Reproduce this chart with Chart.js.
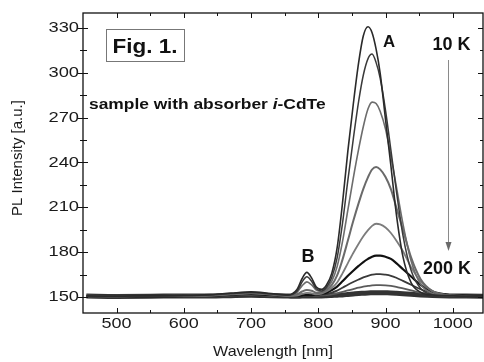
<!DOCTYPE html>
<html>
<head>
<meta charset="utf-8">
<script src="https://cdn.jsdelivr.net/npm/chart.js@4.4.1/dist/chart.umd.min.js"></script>
<style>
  html, body { margin: 0; padding: 0; background: #fff; }
  #wrap { width: 484px; height: 362px; }
</style>
</head>
<body>
<div id="wrap"><canvas id="chart"></canvas></div>
<script>
// wavelength grid (nm), denser around peaks A and B
const wavelength = [455, 500, 550, 600, 640, 670, 700, 730, 755, 768, 776, 783, 790, 797, 805, 812, 820, 828, 836, 844, 852, 860, 867, 874, 880, 886, 892, 900, 908, 916, 926, 938, 952, 970, 995, 1020, 1045];

// PL spectra, 10 K (top) ... 200 K (bottom)
const curve1 = [150.8, 150.6, 150.9, 151.0, 151.6, 152.6, 153.4, 152.3, 151.4, 154.8, 162.4, 166.5, 162.8, 156.7, 155.1, 157.9, 165.8, 182.8, 212.8, 247.8, 278.8, 306.8, 324.8, 330.8, 326.8, 315.8, 299.8, 268.8, 237.8, 205.8, 176.8, 159.6, 153.2, 151.3, 150.9, 150.7, 150.8];
const curve2 = [150.4, 150.7, 150.5, 150.8, 151.4, 152.3, 153.0, 152.0, 151.1, 153.7, 160.1, 163.5, 160.5, 155.5, 154.1, 156.4, 163.0, 176.2, 199.3, 228.2, 255.5, 280.8, 298.5, 309.5, 312.5, 306.8, 296.5, 274.8, 248.2, 221.5, 191.1, 167.9, 155.9, 151.5, 150.7, 150.4, 150.6];
const curve3 = [150.9, 150.5, 150.8, 150.6, 151.3, 152.1, 152.8, 151.9, 151.0, 153.0, 157.6, 160.1, 158.1, 154.6, 153.7, 155.6, 160.4, 170.3, 187.0, 208.3, 229.4, 248.9, 264.1, 275.9, 280.4, 279.4, 274.3, 262.4, 244.2, 224.1, 198.8, 174.2, 158.7, 152.4, 150.9, 150.6, 150.7];
const curve4 = [150.5, 150.9, 150.6, 150.9, 151.2, 152.0, 152.6, 151.8, 150.9, 151.8, 153.7, 154.7, 154.2, 152.9, 153.1, 154.7, 157.9, 164.4, 175.0, 187.8, 200.8, 212.8, 222.4, 230.2, 235.3, 237.0, 235.4, 230.3, 222.2, 210.0, 194.9, 176.5, 162.1, 153.9, 151.1, 150.7, 150.6];
const curve5 = [150.7, 150.4, 150.7, 150.8, 151.0, 151.8, 152.4, 151.6, 150.8, 151.0, 152.1, 152.8, 152.4, 151.8, 152.3, 153.7, 156.0, 159.7, 165.8, 172.7, 179.4, 185.6, 190.6, 194.7, 197.6, 199.0, 198.6, 196.5, 192.8, 187.8, 180.6, 170.0, 160.5, 153.8, 151.1, 150.6, 150.7];
const curve6 = [150.6, 150.8, 150.5, 150.7, 150.9, 151.5, 152.0, 151.4, 150.9, 150.8, 151.1, 151.3, 151.3, 151.5, 152.2, 152.9, 154.7, 157.0, 160.5, 164.2, 167.6, 170.8, 173.4, 175.5, 177.0, 177.7, 177.7, 176.9, 175.5, 172.7, 168.6, 163.7, 158.1, 153.6, 151.3, 150.8, 150.6];
const curve7 = [150.9, 150.5, 150.6, 150.5, 150.8, 151.3, 151.7, 151.2, 150.8, 150.7, 150.9, 150.9, 151.0, 151.2, 151.6, 152.0, 153.0, 154.3, 156.2, 158.2, 160.0, 161.7, 163.1, 164.2, 164.9, 165.3, 165.3, 164.9, 164.2, 162.9, 160.8, 158.2, 155.2, 152.6, 151.1, 150.7, 150.5];
const curve8 = [150.4, 150.6, 150.8, 150.6, 150.7, 151.1, 151.4, 151.0, 150.7, 150.6, 150.7, 150.7, 150.8, 150.9, 151.1, 151.3, 151.8, 152.5, 153.4, 154.4, 155.3, 156.2, 156.9, 157.4, 157.8, 158.0, 158.0, 157.8, 157.4, 156.8, 155.7, 154.4, 152.9, 151.6, 150.9, 150.6, 150.7];
const curve9 = [150.6, 150.4, 150.5, 150.7, 150.6, 150.9, 151.1, 150.8, 150.6, 150.5, 150.6, 150.6, 150.6, 150.7, 150.7, 150.8, 151.0, 151.2, 151.4, 151.7, 152.0, 152.3, 152.5, 152.7, 152.8, 152.9, 152.9, 152.8, 152.7, 152.5, 152.2, 151.8, 151.4, 151.0, 150.7, 150.6, 150.5];

const xTicks = [500, 600, 700, 800, 900, 1000];
const xMinor = [550, 650, 750, 850, 950];
const yTicks = [150, 180, 210, 240, 270, 300, 330];
const yMinor = [165, 195, 225, 255, 285, 315];

const curves = [curve1, curve2, curve3, curve4, curve5, curve6, curve7, curve8, curve9];
const colors = ['#2a2a2a', '#3a3a3a', '#6c6c6c', '#6a6a6a', '#7c7c7c', '#111111', '#3a3a3a', '#5a5a5a', '#333333'];
const widths = [1.6, 1.5, 1.6, 2, 1.8, 2.2, 1.8, 1.8, 5];

const FONT = '"Liberation Sans", Arial, sans-serif';

function stretched(ctx, text, x, y, sx, align, font) {
  ctx.save();
  ctx.font = font;
  ctx.translate(x, y);
  ctx.scale(sx, 1);
  ctx.textAlign = align;
  ctx.fillText(text, 0, 0);
  ctx.restore();
}

const frame = {
  id: 'frame',
  afterDraw(chart) {
    const { ctx, chartArea: a } = chart;
    const x = chart.scales.x, y = chart.scales.y;
    ctx.save();
    ctx.strokeStyle = '#111';
    ctx.lineWidth = 1.3;
    ctx.strokeRect(a.left, a.top, a.right - a.left, a.bottom - a.top);

    ctx.lineWidth = 1;
    ctx.beginPath();
    xTicks.forEach(v => {
      const px = Math.round(x.getPixelForValue(v)) + 0.5;
      ctx.moveTo(px, a.bottom); ctx.lineTo(px, a.bottom - 5);
      ctx.moveTo(px, a.top); ctx.lineTo(px, a.top + 5);
    });
    xMinor.forEach(v => {
      const px = Math.round(x.getPixelForValue(v)) + 0.5;
      ctx.moveTo(px, a.bottom); ctx.lineTo(px, a.bottom - 3);
      ctx.moveTo(px, a.top); ctx.lineTo(px, a.top + 3);
    });
    yTicks.forEach(v => {
      const py = Math.round(y.getPixelForValue(v)) + 0.5;
      ctx.moveTo(a.left - 5, py); ctx.lineTo(a.left + 5, py);
      ctx.moveTo(a.right, py); ctx.lineTo(a.right - 5, py);
    });
    yMinor.forEach(v => {
      const py = Math.round(y.getPixelForValue(v)) + 0.5;
      ctx.moveTo(a.left - 3, py); ctx.lineTo(a.left + 4, py);
      ctx.moveTo(a.right, py); ctx.lineTo(a.right - 3, py);
    });
    ctx.stroke();

    // tick labels
    ctx.fillStyle = '#1a1a1a';
    ctx.textBaseline = 'middle';
    xTicks.forEach(v => stretched(ctx, String(v), x.getPixelForValue(v), 324, 1.2, 'center', '15px ' + FONT));
    yTicks.forEach(v => stretched(ctx, String(v), 79, y.getPixelForValue(v), 1.22, 'right', '15px ' + FONT));

    // axis titles
    stretched(ctx, 'Wavelength [nm]', 273, 352, 1.07, 'center', '15px ' + FONT);
    ctx.save();
    ctx.translate(18, 158);
    ctx.rotate(-Math.PI / 2);
    ctx.font = '15px ' + FONT;
    ctx.textAlign = 'center';
    ctx.fillText('PL Intensity [a.u.]', 0, 0);
    ctx.restore();

    // annotations
    ctx.textBaseline = 'alphabetic';
    ctx.fillStyle = '#111';
    ctx.strokeStyle = '#777';
    ctx.lineWidth = 1;
    ctx.strokeRect(106.5, 29.5, 78, 32);
    stretched(ctx, 'Fig. 1.', 145, 52.5, 1.07, 'center', 'bold 21px ' + FONT);

    // "sample with absorber i-CdTe" with italic i
    const sx = 1.16;
    let tx = 89;
    const parts = [['sample with absorber ', 'bold 15px '], ['i', 'italic bold 15px '], ['-CdTe', 'bold 15px ']];
    parts.forEach(([t, f]) => {
      ctx.font = f + FONT;
      const w = ctx.measureText(t).width * sx;
      stretched(ctx, t, tx, 108.5, sx, 'left', f + FONT);
      tx += w;
    });

    stretched(ctx, 'A', 383, 46.5, 1.05, 'left', 'bold 16px ' + FONT);
    stretched(ctx, 'B', 301.5, 261.5, 1.0, 'left', 'bold 18px ' + FONT);
    stretched(ctx, '10 K', 432.5, 50, 1.0, 'left', 'bold 18px ' + FONT);
    stretched(ctx, '200 K', 423, 273.5, 1.0, 'left', 'bold 18px ' + FONT);

    // temperature arrow
    ctx.strokeStyle = '#8a8a8a';
    ctx.fillStyle = '#6a6a6a';
    ctx.beginPath();
    ctx.moveTo(448.5, 60); ctx.lineTo(448.5, 244);
    ctx.stroke();
    ctx.beginPath();
    ctx.moveTo(448.5, 251); ctx.lineTo(445.5, 242); ctx.lineTo(451.5, 242);
    ctx.closePath();
    ctx.fill();
    ctx.restore();
  }
};

new Chart(document.getElementById('chart'), {
  type: 'line',
  data: {
    datasets: curves.map((c, i) => ({
      label: 'curve ' + (i + 1),
      data: wavelength.map((w, j) => ({ x: w, y: c[j] })),
      borderColor: colors[i],
      borderWidth: widths[i],
      pointRadius: 0,
      fill: false,
      cubicInterpolationMode: 'monotone'
    }))
  },
  options: {
    responsive: true,
    maintainAspectRatio: false,
    animation: false,
    layout: { padding: { top: 13, right: 1, left: 0, bottom: 0 } },
    plugins: { legend: { display: false }, tooltip: { enabled: false } },
    scales: {
      x: {
        type: 'linear', min: 450, max: 1045,
        grid: { display: false }, border: { display: false },
        ticks: { display: false },
        afterFit: s => { s.height = 49; }
      },
      y: {
        min: 139.3, max: 340,
        grid: { display: false }, border: { display: false },
        ticks: { display: false },
        afterFit: s => { s.width = 83; }
      }
    }
  },
  plugins: [frame]
});
</script>
</body>
</html>
